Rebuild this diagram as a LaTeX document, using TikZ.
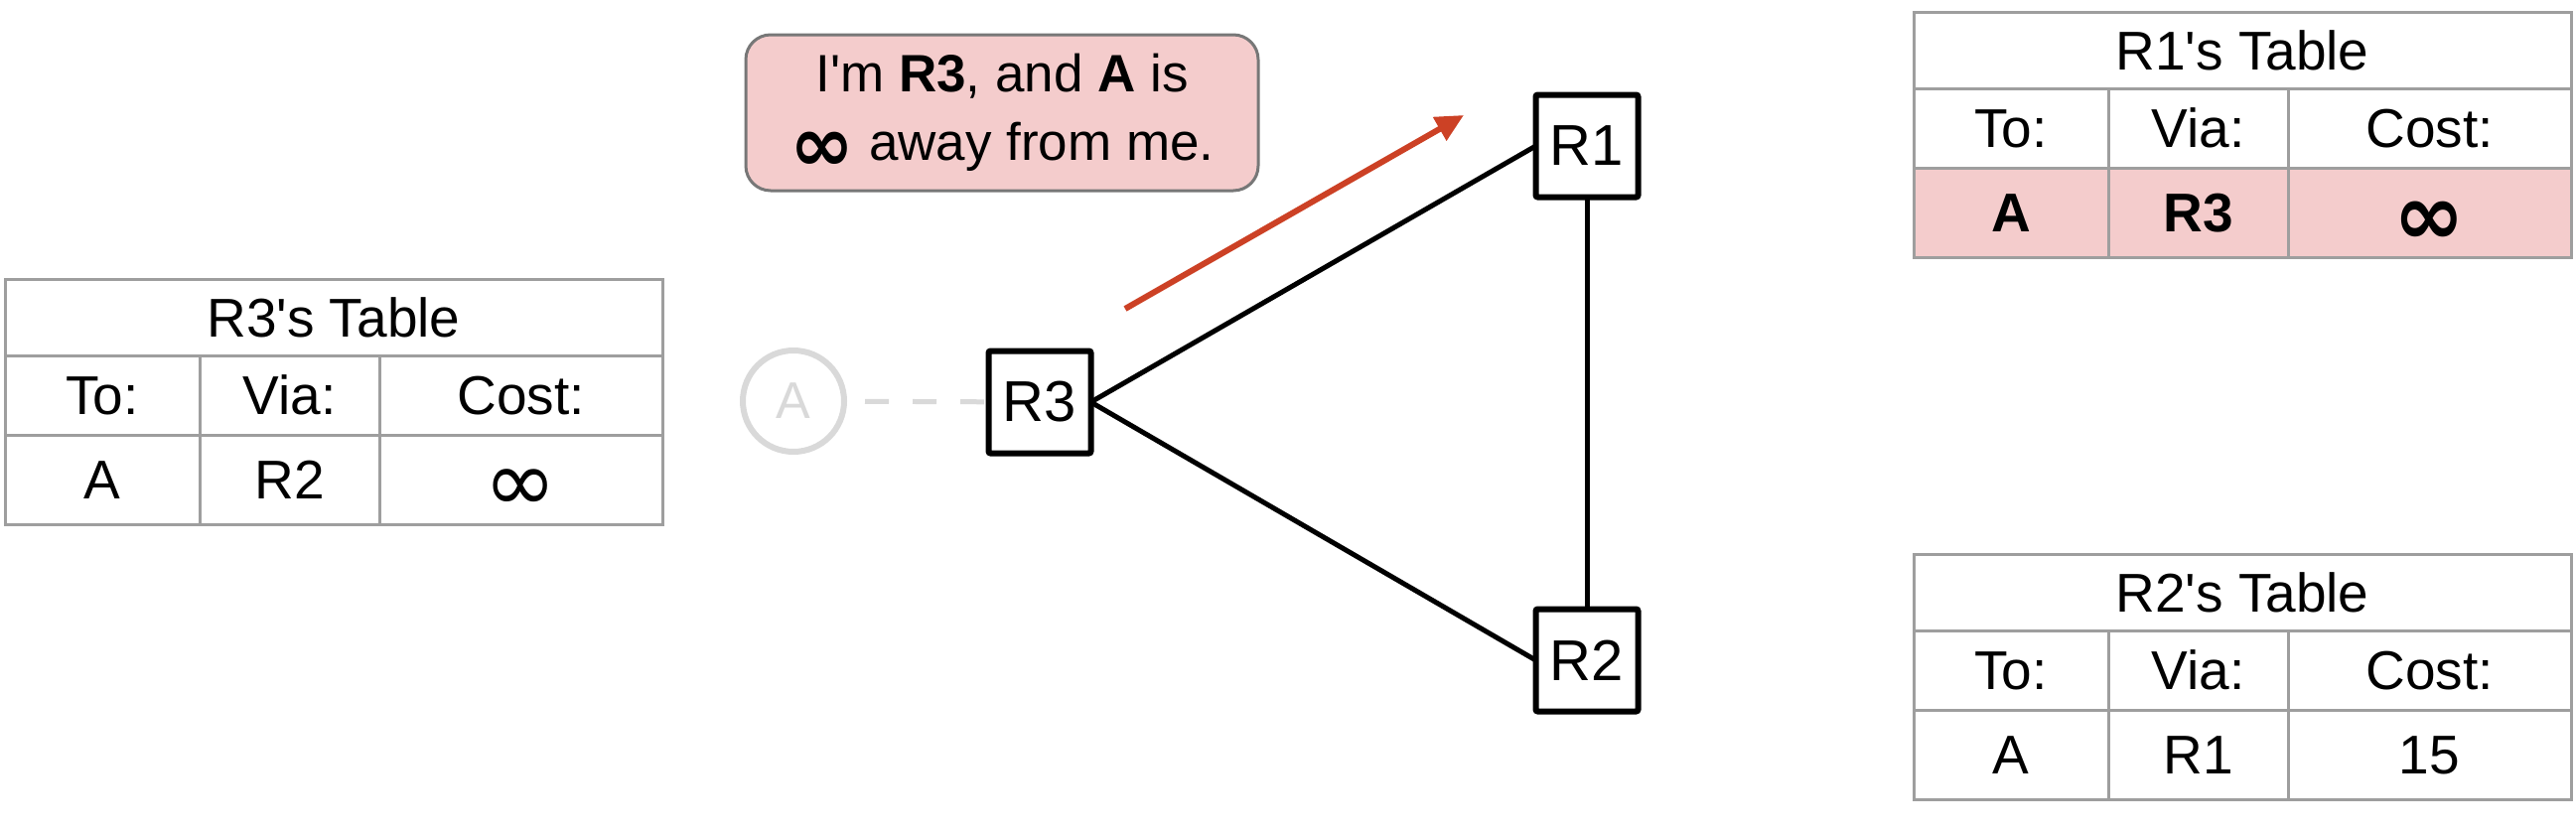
\documentclass[tikz,border=0pt]{standalone}
\usepackage{fontspec}
\setmainfont{Liberation Sans}
\newfontfamily\dvfont{DejaVu Sans}
\usetikzlibrary{arrows.meta}
\definecolor{pinkbg}{HTML}{F4CCCC}
\definecolor{arrowred}{HTML}{CC4125}
\definecolor{gridgray}{HTML}{9E9E9E}
\definecolor{ghost}{HTML}{D9D9D9}
\definecolor{bubbleborder}{HTML}{777777}
\newcommand\inff{{\dvfont\fontsize{88}{60}\selectfont\raisebox{-13pt}{∞}}}
\newcommand\binff{{\dvfont\bfseries\fontsize{86}{60}\selectfont\raisebox{-13pt}{∞}}}
\newcommand\msginff{{\dvfont\bfseries\fontsize{78}{60}\selectfont\raisebox{-11pt}{∞}}}
\newcommand\rtab[8]{%
  \node[cell, minimum width=662, minimum height=77] (#1t) at (#2,#3) {#4};
  \node[cell, minimum width=196, minimum height=80] (#1h1) at (#1t.south west) {To:};
  \node[cell, minimum width=181, minimum height=80] (#1h2) at (#1h1.north east) {Via:};
  \node[cell, minimum width=285, minimum height=80] (#1h3) at (#1h2.north east) {Cost:};
  \node[cell, minimum width=196, minimum height=90, #8] (#1d1) at (#1h1.south west) {#5};
  \node[cell, minimum width=181, minimum height=90, #8] (#1d2) at (#1d1.north east) {#6};
  \node[cell, minimum width=285, minimum height=90, #8] (#1d3) at (#1d2.north east) {#7};
}
\begin{document}
\begin{tikzpicture}[x=1pt,y=-1pt,
  cell/.style={draw=gridgray, line width=3pt, inner sep=0pt, outer sep=0pt, anchor=north west,
    font=\fontsize{55}{60}\selectfont, text height=39pt, text depth=0pt},
  hot/.style={fill=pinkbg, font=\fontsize{55}{60}\selectfont\bfseries},
  plain/.style={},
  router/.style={draw, line width=6pt, rounded corners=2pt, fill=white,
    minimum size=103, inner sep=0pt, outer sep=0pt, font=\fontsize{58}{60}\selectfont},
  link/.style={line width=5pt, black},
  ghostnode/.style={circle, draw=ghost, line width=6pt, minimum size=102, inner sep=0pt,
    text=ghost, font=\fontsize{52}{60}\selectfont},
  bubble/.style={draw=bubbleborder, line width=3pt, fill=pinkbg, rounded corners=25pt,
    minimum width=516, minimum height=157, align=center,
    font=\fontsize{53}{69}\selectfont}]
\useasboundingbox (0,0) rectangle (2594,838);

% tables
\rtab{tA}{5}{281}{R3\textquotesingle s Table}{A}{R2}{\inff}{plain}
\rtab{tB}{1927}{12}{R1\textquotesingle s Table}{A}{R3}{\binff}{hot}
\rtab{tC}{1927}{558}{R2\textquotesingle s Table}{A}{R1}{15}{plain}

% routers
\node[router] (R1) at (1598,147) {R1};
\node[router] (R3) at (1047,405) {R3};
\node[router] (R2) at (1598,665) {R2};
\node[ghostnode] (A) at (799,404) {A};

\draw[link] (R3.east) -- (R1.west);
\draw[link] (R3.east) -- (R2.west);
\draw[link] (R1.south) -- (R2.north);
\draw[ghost, line width=5pt, dash pattern=on 24pt off 24pt, shorten <=18pt] (A) -- (R3);

% message
\node[bubble] (msg) at (1009,113.5) {I\textquotesingle m \textbf{R3}, and \textbf{A} is\\ \msginff{} away from me.};
\coordinate (s) at (1133,311);
\coordinate (e) at (1474,116);
\draw[arrowred, line width=6pt, -{Triangle[length=28pt,width=26pt]}] (s) -- (e);
\end{tikzpicture}
\end{document}
